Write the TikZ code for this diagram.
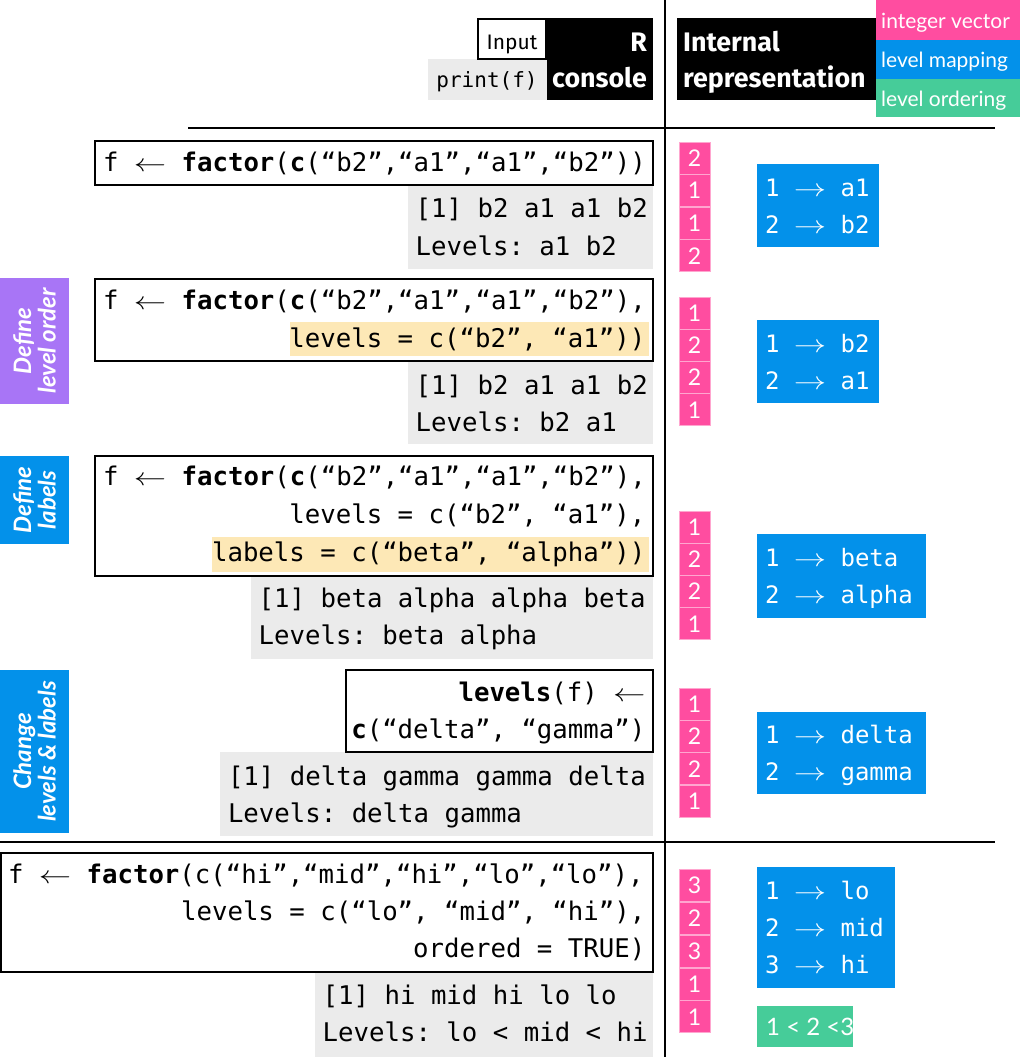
\documentclass[tikz,border=0pt]{standalone}
\usepackage{graphicx}
\usepackage{fontspec}
\setmainfont{Fira Sans}
\newfontfamily\codefont{DejaVu Sans Mono}
\newfontfamily\latofont{Lato}
\usetikzlibrary{fit}

\definecolor{ivpink}{HTML}{FF4DA0}
\definecolor{ivpinkline}{HTML}{FFA6CF}
\definecolor{lmblue}{HTML}{0391EA}
\definecolor{logreen}{HTML}{46CC99}
\definecolor{lopurple}{HTML}{A875F6}
\definecolor{hlyellow}{HTML}{FDE8B6}
\definecolor{outgrey}{HTML}{EBEBEB}

% wide assignment / mapping arrows
\newcommand{\lar}{\makebox[32pt]{\scalebox{1.3}[1]{$\leftarrow$}}}
\newcommand{\rar}{\makebox[32pt]{\scalebox{1.3}[1]{$\rightarrow$}}}

\tikzset{
  box/.style={inner sep=0pt, outer sep=0pt},
  codebox/.style={box, draw=black, line width=2pt},
  outbox/.style={box, fill=outgrey},
  hlbox/.style={box, fill=hlyellow},
  code/.style={inner sep=0pt, font=\codefont\fontsize{25.7}{37}\selectfont\frenchspacing},
  maptext/.style={inner sep=0pt, text=white, font=\codefont\fontsize{24}{37}\selectfont\frenchspacing},
  intsq/.style={box, fill=ivpink, draw=ivpinkline, line width=1pt,
    minimum width=31pt, minimum height=32pt, text=white,
    font=\latofont\fontsize{23}{26}\selectfont},
  mapbox/.style={box, fill=lmblue},
  ordbox/.style={box, fill=logreen},
  sidelab/.style={inner sep=0pt, text=white, rotate=90, align=center,
    font=\latofont\bfseries\itshape\fontsize{24}{24.5}\selectfont},
  headtxt/.style={inner sep=0pt, text=white, font=\bfseries\fontsize{26.8}{30}\selectfont},
  legtxt/.style={inner sep=0pt, text=white, font=\latofont\fontsize{21}{24}\selectfont},
  divider/.style={line width=2pt, black},
}

\begin{document}
\begin{tikzpicture}[x=1pt,y=-1pt]
\useasboundingbox (0,0) rectangle (1024,1057);
\fill[white] (0,0) rectangle (1024,1057);

% ---------- dividers ----------
\coordinate (vtop) at (665,0);
\coordinate (vbot) at (665,1057);
\coordinate (h1l) at (188,128);
\coordinate (h1r) at (995,128);
\coordinate (h2l) at (0,842);
\coordinate (h2r) at (995,842);
\draw[divider] (vtop) -- (vbot);
\draw[divider] (h1l) -- (h1r);
\draw[divider] (h2l) -- (h2r);

% ---------- header ----------
\node[box, fill=outgrey, fit={(428,59) (547,100)}] (printbox) {};
\node[box, fill=white, draw=black, line width=2pt, fit={(478,19) (546,59)}] (inputbox) {};
\node[box, fill=black, fit={(547,18) (653,100)}] (rconsole) {};
\node[inner sep=0pt, anchor=base, font=\fontsize{21}{24}\selectfont] (inputtxt) at (512,50) {Input};
\node[inner sep=0pt, anchor=base, font=\codefont\fontsize{21}{24}\selectfont] (printtxt) at (487,87) {print(f)};
\node[headtxt, anchor=base east] (rtxt) at (647,52) {R};
\node[headtxt, anchor=base east] (consoletxt) at (647,88) {console};

\node[box, fill=black, fit={(677,18) (876,100)}] (internal) {};
\node[headtxt, anchor=base west] (inttxt) at (683,52) {Internal};
\node[headtxt, anchor=base west] (reptxt) at (683,88) {representation};

\node[box, fill=ivpink, fit={(876,0) (1020,40)}] (legiv) {};
\node[box, fill=lmblue, fit={(876,40) (1020,79)}] (leglm) {};
\node[box, fill=logreen, fit={(876,79) (1020,117)}] (leglo) {};
\node[legtxt, anchor=base west] (legivtxt) at (881,29) {integer vector};
\node[legtxt, anchor=base west] (leglmtxt) at (881,67) {level mapping};
\node[legtxt, anchor=base west] (leglotxt) at (881,106) {level ordering};

% ---------- row 1: plain factor ----------
\node[outbox, fit={(408,185) (653,269)}] (out1) {};
\node[codebox, fit={(95,141) (653,185)}] (cb1) {};
\node[code, anchor=base west] (c1a) at (103,171) {f \lar{} \textbf{factor}(\textbf{c}(“b2”,“a1”,“a1”,“b2”))};
\node[code, anchor=base west] (o1a) at (415.5,217) {[1] b2 a1 a1 b2};
\node[code, anchor=base west] (o1b) at (415.5,255) {Levels: a1 b2};

\foreach \v [count=\i from 0] in {2,1,1,2}
  \node[intsq] (ivA\i) at (694.5,158+32.6*\i) {\v};
\node[mapbox, fit={(757,164) (879,247)}] (map1) {};
\node[maptext, anchor=base west] (m1a) at (765,196) {1 \rar{} a1};
\node[maptext, anchor=base west] (m1b) at (765,233) {2 \rar{} b2};

% ---------- row 2: level order ----------
\node[box, fill=lopurple, fit={(0,278) (69,404)}] (side2) {};
\node[sidelab] (side2txt) at (side2.center) {Define\\level order};
\node[outbox, fit={(408,361) (653,444)}] (out2) {};
\node[hlbox, fit={(290,322) (649,356)}] (hl2) {};
\node[codebox, fit={(95,279) (653,361)}] (cb2) {};
\node[code, anchor=base west] (c2a) at (103,309) {f \lar{} \textbf{factor}(\textbf{c}(“b2”,“a1”,“a1”,“b2”),};
\node[code, anchor=base east] (c2b) at (645.5,347) {levels = c(“b2”, “a1”))};
\node[code, anchor=base west] (o2a) at (415.5,394) {[1] b2 a1 a1 b2};
\node[code, anchor=base west] (o2b) at (415.5,431) {Levels: b2 a1};

\foreach \v [count=\i from 0] in {1,2,2,1}
  \node[intsq] (ivB\i) at (694.5,313+32.3*\i) {\v};
\node[mapbox, fit={(757,320) (879,403)}] (map2) {};
\node[maptext, anchor=base west] (m2a) at (765,352) {1 \rar{} b2};
\node[maptext, anchor=base west] (m2b) at (765,389) {2 \rar{} a1};

% ---------- row 3: labels ----------
\node[box, fill=lmblue, fit={(0,456) (69,544)}] (side3) {};
\node[sidelab] (side3txt) at (side3.center) {Define\\labels};
\node[outbox, fit={(251,576) (653,659)}] (out3) {};
\node[hlbox, fit={(212,537) (649,572)}] (hl3) {};
\node[codebox, fit={(95,456) (653,576)}] (cb3) {};
\node[code, anchor=base west] (c3a) at (103,485) {f \lar{} \textbf{factor}(\textbf{c}(“b2”,“a1”,“a1”,“b2”),};
\node[code, anchor=base east] (c3b) at (645.5,523) {levels = c(“b2”, “a1”),};
\node[code, anchor=base east] (c3c) at (645.5,561) {labels = c(“beta”, “alpha”))};
\node[code, anchor=base west] (o3a) at (258.5,607) {[1] beta alpha alpha beta};
\node[code, anchor=base west] (o3b) at (258.5,644) {Levels: beta alpha};

\foreach \v [count=\i from 0] in {1,2,2,1}
  \node[intsq] (ivC\i) at (694.5,527+32.3*\i) {\v};
\node[mapbox, fit={(757,534) (926,618)}] (map3) {};
\node[maptext, anchor=base west] (m3a) at (765,566) {1 \rar{} beta};
\node[maptext, anchor=base west] (m3b) at (765,603) {2 \rar{} alpha};

% ---------- row 4: change levels ----------
\node[box, fill=lmblue, fit={(0,670) (69,833)}] (side4) {};
\node[sidelab] (side4txt) at (side4.center) {Change\\levels \& labels};
\node[outbox, fit={(220,752) (653,836)}] (out4) {};
\node[codebox, fit={(346,670) (653,752)}] (cb4) {};
\node[code, anchor=base east] (c4a) at (645.5,701.5) {\textbf{levels}(f) \lar};
\node[code, anchor=base east] (c4b) at (645.5,738.5) {\textbf{c}(“delta”, “gamma”)};
\node[code, anchor=base west] (o4a) at (227.8,785) {[1] delta gamma gamma delta};
\node[code, anchor=base west] (o4b) at (227.8,822) {Levels: delta gamma};

\foreach \v [count=\i from 0] in {1,2,2,1}
  \node[intsq] (ivD\i) at (694.5,704.3+32.3*\i) {\v};
\node[mapbox, fit={(757,712) (926,794)}] (map4) {};
\node[maptext, anchor=base west] (m4a) at (765,743) {1 \rar{} delta};
\node[maptext, anchor=base west] (m4b) at (765,780) {2 \rar{} gamma};

% ---------- row 5: ordered factor ----------
\node[outbox, fit={(315,972) (653,1057)}] (out5) {};
\node[codebox, fit={(1,853) (653,972)}] (cb5) {};
\node[code, anchor=base west] (c5a) at (8,883) {f \lar{} \textbf{factor}(c(“hi”,“mid”,“hi”,“lo”,“lo”),};
\node[code, anchor=base east] (c5b) at (645.5,920) {levels = c(“lo”, “mid”, “hi”),};
\node[code, anchor=base east] (c5c) at (645.5,957.5) {ordered = TRUE)};
\node[code, anchor=base west] (o5a) at (322.5,1004) {[1] hi mid hi lo lo};
\node[code, anchor=base west] (o5b) at (322.5,1041.5) {Levels: lo < mid < hi};

\foreach \v [count=\i from 0] in {3,2,3,1,1}
  \node[intsq] (ivE\i) at (694.5,885.7+32.8*\i) {\v};
\node[mapbox, fit={(757,867) (895,988)}] (map5) {};
\node[maptext, anchor=base west] (m5a) at (765,899) {1 \rar{} lo};
\node[maptext, anchor=base west] (m5b) at (765,936) {2 \rar{} mid};
\node[maptext, anchor=base west] (m5c) at (765,973) {3 \rar{} hi};
\node[ordbox, fit={(757,1006) (853,1047)}] (ord5) {};
\node[inner sep=0pt, anchor=base west, text=white, font=\latofont\fontsize{24}{28}\selectfont] (ord5txt) at (766,1035) {1 < 2 <3};

\end{tikzpicture}
\end{document}
